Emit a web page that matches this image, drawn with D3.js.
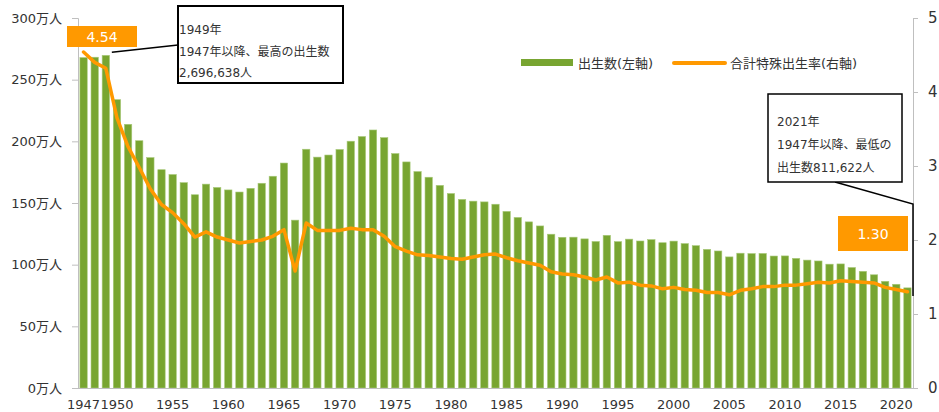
<!DOCTYPE html>
<html>
<head>
<meta charset="utf-8">
<script src="https://cdn.jsdelivr.net/npm/d3@7"></script>
<style>
	body { margin: 0; background: #fff; }
	svg text { font-family: "DejaVu Sans", "Noto Sans CJK JP", sans-serif; fill: #333; }
</style>
</head>
<body>
<svg id="chart"></svg>
<script>
const chartSize = { width: 939, height: 412 };
const plot = { left: 78, right: 913, top: 18, bottom: 388 };

const years = d3.range(1947, 2022);
// births, 万人
const births = [
	267.9, 268.2, 269.7, 233.8, 213.8, 200.5, 186.8, 177.0, 173.1, 166.5,
	156.7, 165.3, 162.6, 160.6, 158.9, 161.9, 166.0, 171.7, 182.4, 136.1,
	193.6, 187.2, 188.9, 193.4, 200.1, 203.9, 209.2, 203.0, 190.1, 183.3,
	175.5, 170.9, 164.3, 157.7, 152.9, 151.5, 150.9, 149.0, 143.2, 138.3,
	134.7, 131.4, 124.7, 122.2, 122.3, 120.9, 118.8, 123.8, 118.7, 120.7,
	119.2, 120.3, 117.8, 119.1, 117.1, 115.4, 112.4, 111.1, 106.3, 109.3,
	109.0, 109.1, 107.0, 107.1, 105.1, 103.7, 103.0, 100.4, 100.6, 97.7,
	94.6, 91.8, 86.5, 84.1, 81.2
];
// total fertility rate
const tfr = [
	4.54, 4.40, 4.32, 3.65, 3.26, 2.98, 2.69, 2.48, 2.37, 2.22,
	2.04, 2.11, 2.04, 2.00, 1.96, 1.98, 2.00, 2.05, 2.14, 1.58,
	2.23, 2.13, 2.13, 2.13, 2.16, 2.14, 2.14, 2.05, 1.91, 1.85,
	1.80, 1.79, 1.77, 1.75, 1.74, 1.77, 1.80, 1.81, 1.76, 1.72,
	1.69, 1.66, 1.57, 1.54, 1.53, 1.50, 1.46, 1.50, 1.42, 1.43,
	1.39, 1.38, 1.34, 1.36, 1.33, 1.32, 1.29, 1.29, 1.26, 1.32,
	1.34, 1.37, 1.37, 1.39, 1.39, 1.41, 1.43, 1.42, 1.45, 1.44,
	1.43, 1.42, 1.36, 1.33, 1.30
];
const xTicks = [1947, 1950, 1955, 1960, 1965, 1970, 1975, 1980, 1985, 1990, 1995, 2000, 2005, 2010, 2015, 2020];
const leftTicks = [0, 50, 100, 150, 200, 250, 300];
const rightTicks = [0, 1, 2, 3, 4, 5];

const svg = d3.select("#chart")
	.attr("width", chartSize.width)
	.attr("height", chartSize.height);

const x = d3.scaleBand()
	.domain(years)
	.range([plot.left, plot.right])
	.paddingInner(0.34)
	.paddingOuter(0.17);

const yL = d3.scaleLinear().domain([0, 300]).range([plot.bottom, plot.top]);
const yR = d3.scaleLinear().domain([0, 5]).range([plot.bottom, plot.top]);

// left axis
const leftAxis = svg.append("g")
	.attr("transform", `translate(${plot.left},0)`)
	.call(d3.axisLeft(yL).tickValues(leftTicks).tickSize(6).tickPadding(10).tickFormat(d => `${d}万人`));
leftAxis.select(".domain").attr("stroke", "#bfbfbf");
leftAxis.selectAll(".tick line").attr("stroke", "#bfbfbf");
leftAxis.selectAll("text").style("font-size", "13px").attr("fill", "#333");

// right axis
const rightAxis = svg.append("g")
	.attr("transform", `translate(${plot.right},0)`)
	.call(d3.axisRight(yR).tickValues(rightTicks).tickSize(5).tickPadding(10).tickFormat(d3.format("d")));
rightAxis.select(".domain").attr("stroke", "#bfbfbf");
rightAxis.selectAll(".tick line").attr("stroke", "#bfbfbf");
rightAxis.selectAll("text").style("font-size", "15px").attr("fill", "#333");

// bars
svg.append("g")
	.selectAll("rect")
	.data(years)
	.join("rect")
	.attr("x", d => x(d))
	.attr("y", (d, i) => yL(births[i]))
	.attr("width", x.bandwidth())
	.attr("height", (d, i) => yL(0) - yL(births[i]))
	.attr("fill", "#78a531")
	.attr("stroke", "#a8c97a")
	.attr("stroke-width", 0.6);

// x axis
const xAxis = svg.append("g")
	.attr("transform", `translate(0,${plot.bottom})`)
	.call(d3.axisBottom(x).tickValues(xTicks).tickSize(0).tickPadding(12));
xAxis.select(".domain").attr("stroke", "#bfbfbf").attr("d", `M${plot.left},0.5H${plot.right}`);
xAxis.selectAll("text").style("font-size", "13px").attr("fill", "#333");

// fertility line
const line = d3.line()
	.x((d, i) => x(years[i]) + x.bandwidth() / 2)
	.y(d => yR(d));

svg.append("path")
	.attr("d", line(tfr))
	.attr("fill", "none")
	.attr("stroke", "#ff9900")
	.attr("stroke-width", 3.5)
	.attr("stroke-linejoin", "round")
	.attr("stroke-linecap", "round");

// value labels
const valueLabel = (x0, y0, w, h, txt) => {
	svg.append("rect").attr("x", x0).attr("y", y0).attr("width", w).attr("height", h).attr("fill", "#ff9900");
	svg.append("text").attr("x", x0 + w / 2).attr("y", y0 + h / 2 + 5)
		.attr("text-anchor", "middle").style("font-size", "14px").style("fill", "#fff").text(txt);
};
valueLabel(67, 26, 70, 21, tfr[0].toFixed(2));
valueLabel(838, 216, 70, 35, tfr[tfr.length - 1].toFixed(2));

// callouts
const peak = x(1949) + x.bandwidth() / 2;
svg.append("path")
	.attr("d", `M${peak + 6},${yL(births[2]) - 3}L178,45`)
	.attr("stroke", "#000").attr("stroke-width", 1.5).attr("fill", "none");
svg.append("rect").attr("x", 178).attr("y", 6).attr("width", 165).attr("height", 77)
	.attr("fill", "#fff").attr("stroke", "#000").attr("stroke-width", 2);
["1949年", "1947年以降、最高の出生数", "2,696,638人"].forEach((t, i) => {
	svg.append("text").attr("x", 179).attr("y", 34 + i * 21.5).style("font-size", "12px").text(t);
});

svg.append("path")
	.attr("d", `M835,182L${plot.right},204L${plot.right},296`)
	.attr("stroke", "#000").attr("stroke-width", 1.5).attr("fill", "none");
svg.append("rect").attr("x", 768).attr("y", 94).attr("width", 134).attr("height", 88)
	.attr("fill", "#fff").attr("stroke", "#000").attr("stroke-width", 1.5);
["2021年", "1947年以降、最低の", "出生数811,622人"].forEach((t, i) => {
	svg.append("text").attr("x", 777).attr("y", 126 + i * 23).style("font-size", "12px").text(t);
});

// legend
const legend = svg.append("g");
legend.append("rect").attr("x", 521).attr("y", 59).attr("width", 52).attr("height", 7).attr("fill", "#78a531");
legend.append("text").attr("x", 578).attr("y", 68).style("font-size", "13px").text("出生数(左軸)");
legend.append("line").attr("x1", 674).attr("x2", 725).attr("y1", 63).attr("y2", 63)
	.attr("stroke", "#ff9900").attr("stroke-width", 4).attr("stroke-linecap", "round");
legend.append("text").attr("x", 730).attr("y", 68).style("font-size", "13px").text("合計特殊出生率(右軸)");
</script>
</body>
</html>
